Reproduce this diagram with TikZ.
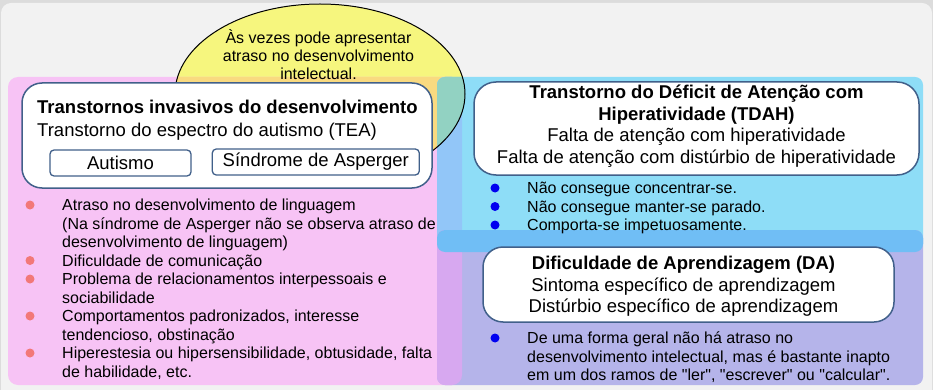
\documentclass[tikz,border=0pt]{standalone}
\usepackage{fontspec}
\setmainfont{Liberation Sans}
\usepackage{tikz}
\usetikzlibrary{positioning,calc}
\definecolor{FundoCinza}{HTML}{F2F2F2}
\definecolor{BordaCinza}{HTML}{DCDCDC}
\definecolor{RosaTEA}{HTML}{F7C3F5}
\definecolor{AzulTDAH}{HTML}{8EDDF7}
\definecolor{LilasDA}{HTML}{B5B4EA}
\definecolor{AmareloNota}{HTML}{F6F67E}
\definecolor{LaranjaMix}{HTML}{F9DA80}
\definecolor{AzulRosa}{HTML}{92C6F8}
\definecolor{VerdeMix}{HTML}{92D2C2}
\definecolor{VioletaMix}{HTML}{D7A8F0}
\definecolor{AzulFaixa}{HTML}{70BEF5}
\definecolor{BordaCaixa}{HTML}{41608A}
\definecolor{Salmao}{HTML}{F27878}
\definecolor{AzulMarcador}{HTML}{0000F0}
\tikzset{
  caixa/.style      = {draw=BordaCaixa, line width=1.5pt, fill=white,
                       rounded corners=20pt, inner sep=0pt},
  subcaixa/.style   = {draw=BordaCaixa, line width=1.3pt, fill=white,
                       rounded corners=4pt, inner sep=0pt,
                       font=\fontsize{18.5}{21.5}\selectfont},
  textocaixa/.style = {anchor=north, inner sep=0pt, align=center,
                       font=\fontsize{18.5}{21.5}\selectfont},
  lista/.style      = {anchor=north west, inner sep=0pt, align=left,
                       font=\fontsize{16}{18.5}\selectfont},
  nota/.style       = {anchor=north, inner sep=0pt, align=center,
                       font=\fontsize{16}{18}\selectfont},
}

\begin{document}
\begin{tikzpicture}[x=1pt, y=-1pt]
  \useasboundingbox (0,0) rectangle (933,390);
  % fundo
  \fill[BordaCinza] (0,0) rectangle (933,390);
  \fill[FundoCinza, rounded corners=10pt] (1,3) rectangle (932,400);
  % nota amarela e regioes sobrepostas
  \fill[AmareloNota] (320,94) ellipse [x radius=145pt, y radius=90pt];
  \fill[RosaTEA, rounded corners=10pt] (8,77) rectangle (462,385);
  \begin{scope}
    \clip[rounded corners=10pt] (8,77) rectangle (462,385);
    \fill[LaranjaMix] (320,94) ellipse [x radius=145pt, y radius=90pt];
  \end{scope}
  \fill[AzulTDAH, rounded corners=8pt] (437,77) rectangle (923,252);
  \begin{scope}
    \clip[rounded corners=8pt] (437,77) rectangle (923,252);
    \fill[AzulRosa, rounded corners=10pt] (8,77) rectangle (462,385);
    \fill[VerdeMix] (320,94) ellipse [x radius=145pt, y radius=90pt];
  \end{scope}
  \fill[LilasDA, rounded corners=8pt] (437,230) rectangle (923,385);
  \begin{scope}
    \clip[rounded corners=8pt] (437,230) rectangle (923,385);
    \fill[VioletaMix, rounded corners=10pt] (8,77) rectangle (462,385);
    \fill[AzulFaixa, rounded corners=8pt] (437,77) rectangle (923,252);
  \end{scope}
  \draw[line width=1pt] (320,94) ellipse [x radius=145pt, y radius=90pt];
  \node[nota] (notatexto) at (318.5,29.9) {\strut Às vezes pode apresentar\\atraso no desenvolvimento\\intelectual.};

  % TEA
  \node[caixa, minimum width=410pt, minimum height=105pt] (tea) at (227,135.5) {};
  \node[textocaixa, anchor=north west, align=left, font=\fontsize{18.5}{23}\selectfont] (teatexto) at (37,97.4)
    {\strut\textbf{Transtornos invasivos do desenvolvimento}\\Transtorno do espectro do autismo (TEA)};
  \node[subcaixa, minimum width=141pt, minimum height=26pt] (autismo) at (120.5,163) {Autismo};
  \node[subcaixa, minimum width=207pt, minimum height=26pt, right=20pt of autismo, yshift=1pt] (asperger) {Síndrome de Asperger};
  \node[lista] (tealista) at (62,197.55) {\strut Atraso no desenvolvimento de linguagem\\
    (Na síndrome de Asperger não se observa atraso de\\
    desenvolvimento de linguagem)\\
    Dificuldade de comunicação\\
    Problema de relacionamentos interpessoais e\\
    sociabilidade\\
    Comportamentos padronizados, interesse\\
    tendencioso, obstinação\\
    Hiperestesia ou hipersensibilidade, obtusidade, falta\\
    de habilidade, etc.};
  \foreach \yb in {205,260.5,279,316,353}
    \fill[Salmao] (30,\yb) circle [radius=4.5pt];

  % TDAH
  \node[caixa, rounded corners=22pt, minimum width=445pt, minimum height=93pt] (tdah) at (696.5,128.5) {};
  \node[textocaixa] (tdahtexto) at (696.5,83.45)
    {\strut\textbf{Transtorno do Déficit de Atenção com}\\\textbf{Hiperatividade (TDAH)}\\
     Falta de atenção com hiperatividade\\Falta de atenção com distúrbio de hiperatividade};
  \node[lista] (tdahlista) at (527,180.55) {\strut Não consegue concentrar-se.\\
    Não consegue manter-se parado.\\
    Comporta-se impetuosamente.};

  % DA
  \node[caixa, minimum width=411pt, minimum height=75pt] (da) at (688.5,284.5) {};
  \node[textocaixa] (datexto) at (683.5,254.45)
    {\strut\textbf{Dificuldade de Aprendizagem (DA)}\\Sintoma específico de aprendizagem\\
     Distúrbio específico de aprendizagem};
  \node[lista] (dalista) at (527,330.55) {\strut De uma forma geral não há atraso no\\
    desenvolvimento intelectual, mas é bastante inapto\\
    em um dos ramos de \textquotedbl ler\textquotedbl, \textquotedbl escrever\textquotedbl{} ou \textquotedbl calcular\textquotedbl.};
  \foreach \yb in {188,206.5,225,338}
    \fill[AzulMarcador] (495,\yb) circle [radius=4.5pt];
\end{tikzpicture}
\end{document}
